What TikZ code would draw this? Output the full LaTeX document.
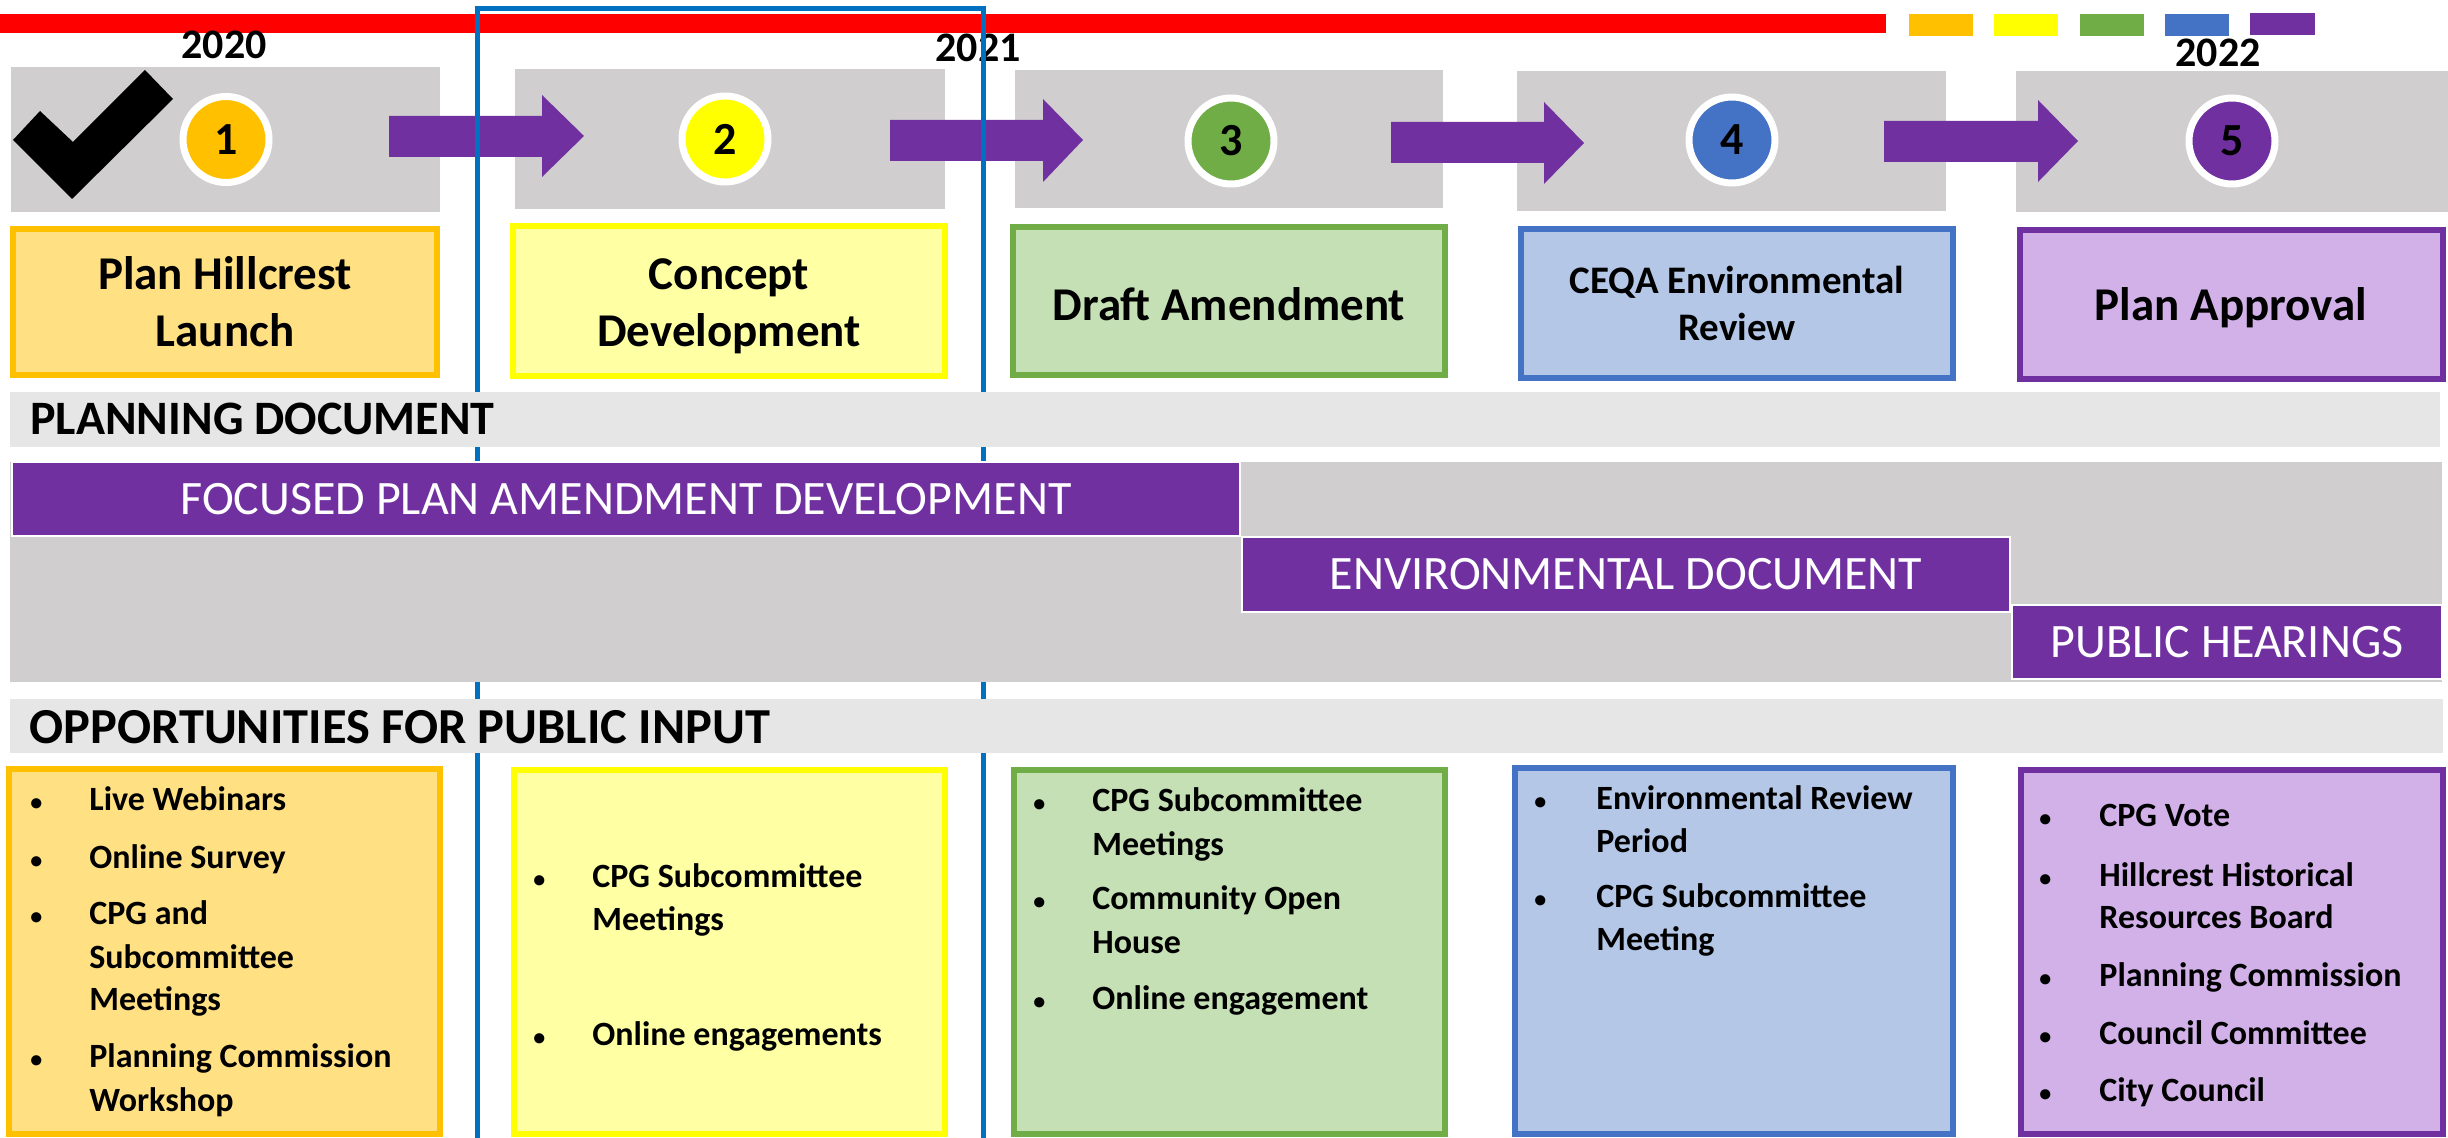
\documentclass[tikz,border=0pt]{standalone}
\usepackage{fontspec}
\setmainfont{Carlito}
\usetikzlibrary{fit}
\definecolor{corange}{HTML}{FFC000}
\definecolor{lorange}{HTML}{FFE083}
\definecolor{cyellow}{HTML}{FFFF00}
\definecolor{lyellow}{HTML}{FFFFA3}
\definecolor{cgreen}{HTML}{70AD47}
\definecolor{lgreen}{HTML}{C5E0B4}
\definecolor{cblue}{HTML}{4472C4}
\definecolor{lblue}{HTML}{B4C7E7}
\definecolor{cpurple}{HTML}{7030A0}
\definecolor{lpurple}{HTML}{D1B1E8}
\definecolor{stepgray}{HTML}{D0CECE}
\definecolor{headgray}{HTML}{E6E6E6}
\definecolor{frameblue}{HTML}{0070C0}
\definecolor{cred}{HTML}{FF0000}
\newcommand\blt{{\fontsize{12}{12}\selectfont\textbullet}}
\begin{document}
\begin{tikzpicture}[x=0.5pt,y=-0.5pt,
  stepbg/.style={fill=stepgray, inner sep=0pt, draw=none},
  headbar/.style={fill=headgray, inner sep=0pt, draw=none},
  stagebox/.style={inner sep=0pt, line width=3.25pt, align=center, font=\bfseries\fontsize{23.5}{28.5}\selectfont},
  listbox/.style={inner sep=0pt, line width=3.25pt},
  numcirc/.style={circle, draw=white, line width=3.5pt, minimum size=43pt, inner sep=0pt, font=\bfseries\fontsize{23}{23}\selectfont},
  yearlbl/.style={inner sep=0pt, font=\bfseries\fontsize{21}{21}\selectfont},
  blockarrow/.style={fill=cpurple},
  phasebar/.style={fill=cpurple, draw=white, line width=1.25pt, inner sep=0pt},
  phasetext/.style={inner sep=0pt, text=white, font=\fontsize{24}{24}\selectfont},
  headtext/.style={inner sep=0pt, anchor=base west, font=\bfseries\fontsize{24}{24}\selectfont},
  listtext/.style={inner sep=0pt, anchor=base west, font=\bfseries\fontsize{17}{21.5}\selectfont},
  swatch/.style={inner sep=0pt, draw=none}
]
\useasboundingbox (0,0) rectangle (2448,1138);

% red timeline bar and colour swatches
\node[swatch, fill=cred, fit={(0,14) (1886,33)}] (redbar) {};
\node[swatch, fill=corange, fit={(1909,14) (1973,36)}] (sw1) {};
\node[swatch, fill=cyellow, fit={(1994,14) (2058,36)}] (sw2) {};
\node[swatch, fill=cgreen, fit={(2080,14) (2144,36)}] (sw3) {};
\node[swatch, fill=cblue, fit={(2165,14) (2229,36)}] (sw4) {};
\node[swatch, fill=cpurple, fit={(2250,13) (2315,35)}] (sw5) {};

% years
\node[yearlbl] (y2020) at (224,45) {2020};
\node[yearlbl] (y2021) at (978,48) {2021};
\node[yearlbl] (y2022) at (2218,53) {2022};

% step grey boxes
\node[stepbg, fit={(11,67) (440,212)}] (s1) {};
\node[stepbg, fit={(515,69) (945,209)}] (s2) {};
\node[stepbg, fit={(1015,70) (1443,208)}] (s3) {};
\node[stepbg, fit={(1517,71) (1946,211)}] (s4) {};
\node[stepbg, fit={(2016,71) (2448,212)}] (s5) {};

% check mark
\fill[black] (72,199) -- (13,140) -- (40,111) -- (73,142) -- (145,70) -- (173,99) -- cycle;

% block arrows
\fill[blockarrow] (389,116) -- (542,116) -- (542,95) -- (584,136) -- (542,177) -- (542,157) -- (389,157) -- cycle;
\fill[blockarrow] (890,120) -- (1043,120) -- (1043,99) -- (1083,140) -- (1043,182) -- (1043,161) -- (890,161) -- cycle;
\fill[blockarrow] (1391,122) -- (1544,122) -- (1544,102) -- (1584,143) -- (1544,184) -- (1544,163) -- (1391,163) -- cycle;
\fill[blockarrow] (1884,121) -- (2038,121) -- (2038,100) -- (2078,141) -- (2038,182) -- (2038,162) -- (1884,162) -- cycle;

% numbered circles
\node[numcirc, fill=corange] (n1) at (226,139.5) {1};
\node[numcirc, fill=cyellow] (n2) at (725,139) {2};
\node[numcirc, fill=cgreen] (n3) at (1231,141) {3};
\node[numcirc, fill=cblue] (n4) at (1732,140) {4};
\node[numcirc, fill=cpurple] (n5) at (2232,141) {5};

% stage label boxes
\node[stagebox, draw=corange, fill=lorange, fit={(13,229) (437,375)}] (t1) {};
\node[stagebox] at (t1.center) (t1txt) {Plan Hillcrest\\Launch};
\node[stagebox, draw=cyellow, fill=lyellow, fit={(513,226) (945,376)}] (t2) {};
\node[stagebox] at ([yshift=-2.5pt]t2.center) (t2txt) {Concept\\Development};
\node[stagebox, draw=cgreen, fill=lgreen, fit={(1013,227) (1445,375)}] (t3) {};
\node[stagebox, anchor=base] at (1229,321) (t3txt) {Draft Amendment};
\node[stagebox, draw=cblue, fill=lblue, fit={(1521,229) (1953,378)}] (t4) {};
\node[stagebox, font=\bfseries\fontsize{19.5}{23.5}\selectfont] at (t4.center) (t4txt) {CEQA Environmental\\Review};
\node[stagebox, draw=cpurple, fill=lpurple, fit={(2020,230) (2443,379)}] (t5) {};
\node[stagebox, anchor=base] at (2231,321) (t5txt) {Plan Approval};

% blue 2021 frame
\draw[frameblue, line width=2.5pt] (477,1160) -- (477,9) -- (983,9) -- (983,1160);

% planning document band
\node[headbar, fit={(10,392) (2440,447)}] (pdhead) {};
\node[headtext] at (30,435) (pdtext) {PLANNING DOCUMENT};
\node[stepbg, fit={(10,462) (2442,682)}] (pdband) {};
\node[phasebar, fit={(12,462) (1240,536)}] (ph1) {};
\node[phasetext] at (ph1.center) (ph1txt) {FOCUSED PLAN AMENDMENT DEVELOPMENT};
\node[phasebar, fit={(1242,537) (2010,612)}] (ph2) {};
\node[phasetext] at (ph2.center) (ph2txt) {ENVIRONMENTAL DOCUMENT};
\node[phasebar, fit={(2012,605) (2442,679)}] (ph3) {};
\node[phasetext] at (ph3.center) (ph3txt) {PUBLIC HEARINGS};

% public input band
\node[headbar, fit={(10,699) (2443,753)}] (pihead) {};
\node[headtext, font=\bfseries\fontsize{25.2}{25.2}\selectfont] at (29,743) (pitext) {OPPORTUNITIES FOR PUBLIC INPUT};

% list boxes
\node[listbox, draw=corange, fill=lorange, fit={(9,769) (440,1134)}] (bA) {};
\node[listbox, draw=cyellow, fill=lyellow, fit={(514,770) (945,1134)}] (bB) {};
\node[listbox, draw=cgreen, fill=lgreen, fit={(1014,770) (1445,1134)}] (bC) {};
\node[listbox, draw=cblue, fill=lblue, fit={(1515,768) (1953,1134)}] (bD) {};
\node[listbox, draw=cpurple, fill=lpurple, fit={(2021,770) (2443,1134)}] (bE) {};

\node[listtext] at (30,811) (lA) {\begin{tabular}[t]{@{}p{29.5pt}@{}l@{}}
\blt & Live Webinars\\[7pt]
\blt & Online Survey\\[7pt]
\blt & CPG and\\
 & Subcommittee\\
 & Meetings\\[7pt]
\blt & Planning Commission\\
 & Workshop
\end{tabular}};

\node[listtext] at (533,887) (lB) {\begin{tabular}[t]{@{}p{29.5pt}@{}l@{}}
\blt & CPG Subcommittee\\
 & Meetings\\[36pt]
\blt & Online engagements
\end{tabular}};

\node[listtext] at (1033,812) (lC) {\begin{tabular}[t]{@{}p{29.5pt}@{}l@{}}
\blt & CPG Subcommittee\\
 & Meetings\\[6pt]
\blt & Community Open\\
 & House\\[7pt]
\blt & Online engagement
\end{tabular}};

\node[listtext] at (1534,809) (lD) {\begin{tabular}[t]{@{}p{31pt}@{}l@{}}
\blt & Environmental Review\\
 & Period\\[6pt]
\blt & CPG Subcommittee\\
 & Meeting
\end{tabular}};

\node[listtext] at (2039,827) (lE) {\begin{tabular}[t]{@{}p{30pt}@{}l@{}}
\blt & CPG Vote\\[8pt]
\blt & Hillcrest Historical\\
 & Resources Board\\[7.5pt]
\blt & Planning Commission\\[7.5pt]
\blt & Council Committee\\[7pt]
\blt & City Council
\end{tabular}};
\end{tikzpicture}
\end{document}
